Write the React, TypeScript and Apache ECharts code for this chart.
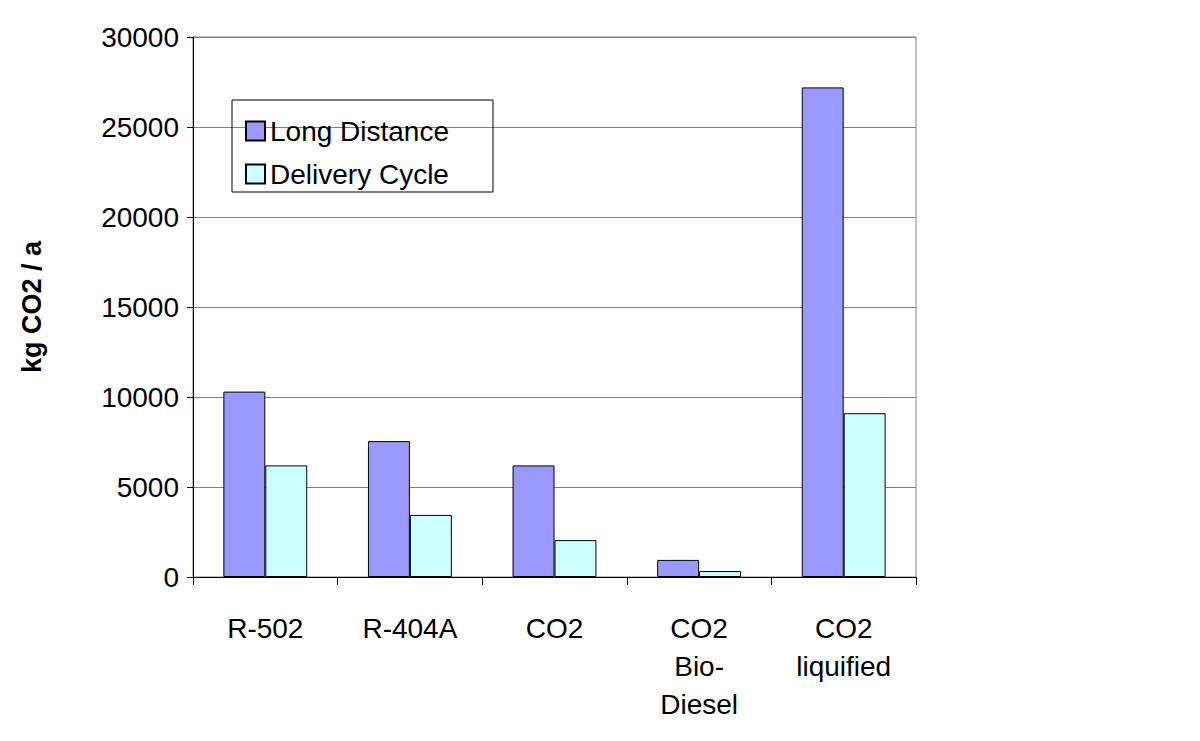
import { useEffect, useRef } from 'react';
import * as echarts from 'echarts';

const categories = ['R-502', 'R-404A', 'CO2', 'CO2\nBio-\nDiesel', 'CO2\nliquified'];
const longDistance = [10300, 7550, 6200, 950, 27200];
const deliveryCycle = [6200, 3450, 2050, 330, 9100];

export default function App() {
  const chartRef = useRef<HTMLDivElement>(null);

  useEffect(() => {
    if (!chartRef.current) return;
    const chart = echarts.init(chartRef.current, null, { renderer: 'svg' });
    const font = 'Liberation Sans, Arial, sans-serif';

    const option: echarts.EChartsOption = {
      animation: false,
      backgroundColor: '#fff',
      textStyle: { fontFamily: font },
      grid: {
        left: 193,
        right: 284,
        top: 37,
        bottom: 164,
        show: true,
        borderColor: '#808080',
        borderWidth: 1,
      },
      legend: {
        orient: 'vertical',
        left: 240,
        top: 112,
        icon: 'rect',
        itemWidth: 19,
        itemHeight: 19,
        itemGap: 15,
        textStyle: { fontSize: 28, fontFamily: font, color: '#000' },
        data: ['Long Distance', 'Delivery Cycle'],
      },
      graphic: [
        {
          type: 'rect',
          shape: { x: 232, y: 100, width: 261, height: 92 },
          style: { fill: 'none', stroke: '#000', lineWidth: 1 },
          z: 10,
        },
      ],
      xAxis: {
        type: 'category',
        data: categories,
        axisLine: { lineStyle: { color: '#000' } },
        axisTick: { show: true, length: 8, lineStyle: { color: '#000' } },
        axisLabel: {
          fontSize: 28,
          color: '#000',
          margin: 32,
          lineHeight: 38,
          fontFamily: font,
        },
      },
      yAxis: {
        type: 'value',
        min: 0,
        max: 30000,
        interval: 5000,
        name: 'kg CO2 / a',
        nameLocation: 'middle',
        nameGap: 148,
        nameRotate: 90,
        nameTextStyle: { fontSize: 27, fontWeight: 'bold', color: '#000', fontFamily: font },
        axisLine: { show: true, lineStyle: { color: '#000' } },
        axisTick: { show: true, length: 6, lineStyle: { color: '#000' } },
        axisLabel: {
          fontSize: 28,
          color: '#000',
          margin: 14,
          fontFamily: font,
          formatter: (v: number) => String(v),
        },
        splitLine: { lineStyle: { color: '#808080' } },
      },
      series: [
        {
          name: 'Long Distance',
          type: 'bar',
          data: longDistance,
          barGap: '0%',
          barCategoryGap: '42%',
          itemStyle: { color: '#9999ff', borderColor: '#000', borderWidth: 1 },
        },
        {
          name: 'Delivery Cycle',
          type: 'bar',
          data: deliveryCycle,
          itemStyle: { color: '#ccffff', borderColor: '#000', borderWidth: 1 },
        },
      ],
    };

    chart.setOption(option);
    return () => chart.dispose();
  }, []);

  return <div ref={chartRef} style={{ width: 1200, height: 741, margin: -8 }} />;
}
